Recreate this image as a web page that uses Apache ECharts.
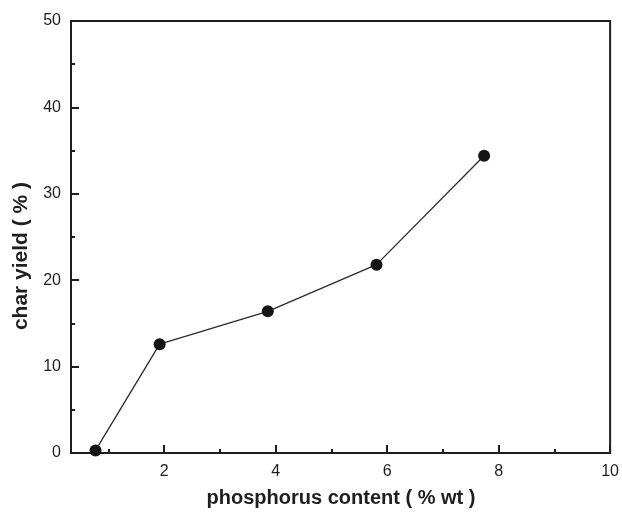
<!DOCTYPE html>
<html>
<head>
<meta charset="utf-8">
<style>
  html, body { margin: 0; padding: 0; background: #ffffff; }
  #chart { width: 622px; height: 513px; }
</style>
<script src="https://cdn.jsdelivr.net/npm/echarts@6/dist/echarts.min.js"></script>
</head>
<body>
<div id="chart"></div>
<script>
// Char yield as a function of phosphorus content
const phosphorus = [0.77, 1.92, 3.86, 5.81, 7.74];
const charYield  = [0.3, 12.6, 16.4, 21.8, 34.4];

const xMajorTicks = [2, 4, 6, 8, 10];
const xMinorTicks = [1, 3, 5, 7, 9];
const yMajorTicks = [0, 10, 20, 30, 40, 50];
const yMinorTicks = [5, 15, 25, 35, 45];
const xRange = [0.33, 10];
const yRange = [0, 50];

const xTitle = 'phosphorus content ( % wt )';
const yTitle = 'char yield ( % )';

const ink = '#1e1e1e';
const fam = 'Liberation Sans, Arial, sans-serif';
const tickFont = { fontFamily: fam, fontSize: 16, color: ink };

const chart = echarts.init(document.getElementById('chart'), null, { renderer: 'canvas' });

// Each direction uses three stacked axes on the same side:
// the labelled axis line, a twin with the long major ticks and a twin with the short minor ticks.
function axisSet(kind, range, major, minor, labelMargin) {
  const pos = kind === 'x' ? 'bottom' : 'left';
  const base = { type: 'value', min: range[0], max: range[1], position: pos, splitLine: { show: false } };
  const tickAxis = (values, len) => ({
    ...base,
    axisLine: { show: false },
    axisTick: { show: true, inside: true, length: len, customValues: values, lineStyle: { color: ink, width: 2 } },
    axisLabel: { show: false }
  });
  return [
    {
      ...base,
      axisLine: { show: true, lineStyle: { color: ink, width: 2 } },
      axisTick: { show: false },
      axisLabel: { show: true, margin: labelMargin, customValues: major, ...tickFont }
    },
    tickAxis(major, 8),
    tickAxis(minor, 4)
  ];
}

chart.setOption({
  animation: false,
  backgroundColor: '#ffffff',
  grid: {
    left: 71, top: 21, right: 10, bottom: 60,
    show: true, borderColor: ink, borderWidth: 2, backgroundColor: 'transparent'
  },
  xAxis: axisSet('x', xRange, xMajorTicks, xMinorTicks, 11),
  yAxis: axisSet('y', yRange, yMajorTicks, yMinorTicks, 10),
  series: [{
    type: 'line',
    xAxisIndex: 0,
    yAxisIndex: 0,
    data: phosphorus.map((p, i) => [p, charYield[i]]),
    symbol: 'circle',
    symbolSize: 12,
    itemStyle: { color: '#151515' },
    lineStyle: { color: '#2a2a2a', width: 1.3 },
    z: 5
  }],
  graphic: [
    {
      type: 'text', x: 341, y: 488,
      style: { text: xTitle, fontFamily: fam, fontSize: 20, fontWeight: 'bold', fill: ink, textAlign: 'center', textVerticalAlign: 'top' }
    },
    {
      type: 'text', x: 11, y: 256, rotation: Math.PI / 2,
      style: { text: yTitle, fontFamily: fam, fontSize: 21, fontWeight: 'bold', fill: ink, textAlign: 'center', textVerticalAlign: 'top' }
    }
  ]
});
</script>
</body>
</html>
